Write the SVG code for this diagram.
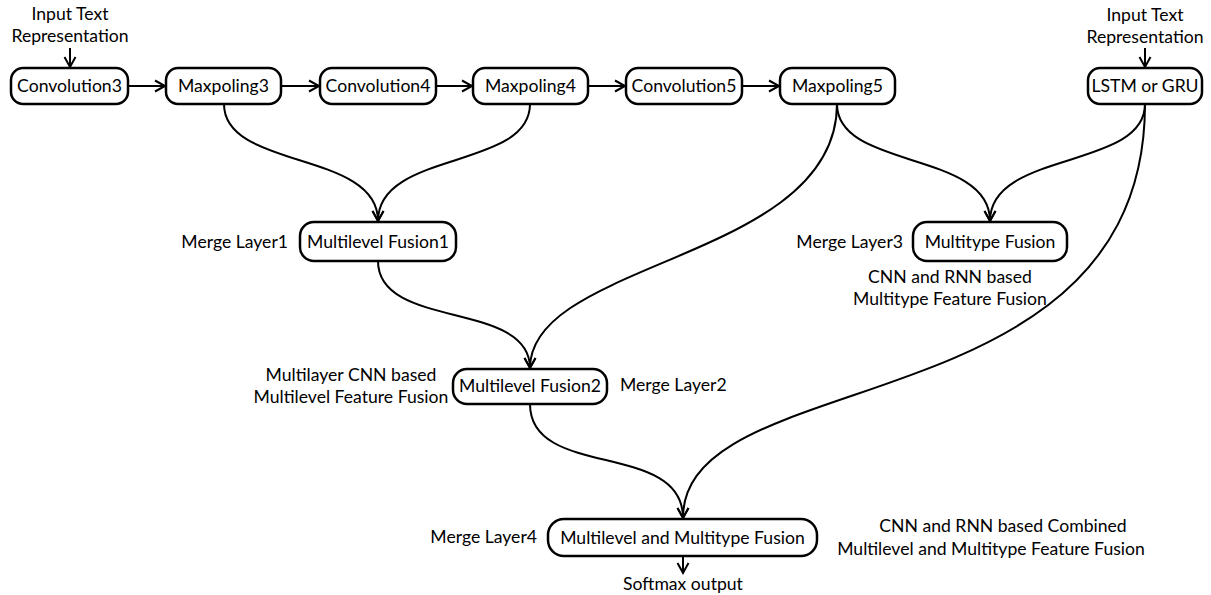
<svg xmlns="http://www.w3.org/2000/svg" width="1211" height="595" viewBox="0 0 1211 595">
<style>
.box{fill:#fff;stroke:#000;stroke-width:2.5}
.t{font-family:Lato,"Liberation Sans",sans-serif;font-size:17.6px;fill:#000;text-anchor:middle}
.l{font-family:Lato,"Liberation Sans",sans-serif;font-size:17.6px;fill:#000}
.e{text-anchor:end}
.c{fill:none;stroke:#000;stroke-width:2;marker-end:url(#ah)}
</style>
<defs>
<marker id="ah" markerUnits="userSpaceOnUse" markerWidth="12" markerHeight="12" refX="10" refY="5.5" orient="auto" overflow="visible">
<path d="M0,0 L10,5.5 L0,11" fill="none" stroke="#000" stroke-width="2"/>
</marker>
</defs>
<rect width="1211" height="595" fill="#fff"/>
<g id="connectors">
<path class="c" d="M70,48 V67"/>
<path class="c" d="M1145,48 V67"/>
<path class="c" d="M128,86 H165"/>
<path class="c" d="M281,86 H319"/>
<path class="c" d="M436,86 H472"/>
<path class="c" d="M588,86 H625"/>
<path class="c" d="M742,86 H779"/>
<path class="c" d="M224,104 C224,170 378,150 378,221"/>
<path class="c" d="M530,104 C530,170 378,150 378,221"/>
<path class="c" d="M837,104 C837,170 990,150 990,221"/>
<path class="c" d="M1145,104 C1145,170 990,150 990,221"/>
<path class="c" d="M837,104 C837,260 530,260 530,368"/>
<path class="c" d="M378,261 C378,330 530,300 530,368"/>
<path class="c" d="M530,404 C530,480 683,440 683,518"/>
<path class="c" d="M1145,104 C1145,430 683,360 683,518"/>
<path class="c" d="M683,556 V573"/>
</g>
<g id="n-conv3"><rect class="box" x="11" y="68" width="117" height="36" rx="12"/><text class="t" x="69.5" y="92">Convolution3</text></g>
<g id="n-max3"><rect class="box" x="166" y="68" width="115" height="36" rx="12"/><text class="t" x="223.5" y="92">Maxpoling3</text></g>
<g id="n-conv4"><rect class="box" x="320" y="68" width="116" height="36" rx="12"/><text class="t" x="378" y="92">Convolution4</text></g>
<g id="n-max4"><rect class="box" x="473" y="68" width="115" height="36" rx="12"/><text class="t" x="530.5" y="92">Maxpoling4</text></g>
<g id="n-conv5"><rect class="box" x="626" y="68" width="116" height="36" rx="12"/><text class="t" x="684" y="92">Convolution5</text></g>
<g id="n-max5"><rect class="box" x="780" y="68" width="115" height="36" rx="12"/><text class="t" x="837.5" y="92">Maxpoling5</text></g>
<g id="n-lstm"><rect class="box" x="1088" y="68" width="114" height="36" rx="12"/><text class="t" x="1145" y="92">LSTM or GRU</text></g>
<g id="n-mf1"><rect class="box" x="300" y="222" width="156" height="39" rx="14"/><text class="t" x="378" y="248">Multilevel Fusion1</text></g>
<g id="n-mtf"><rect class="box" x="913" y="222" width="154" height="39" rx="14"/><text class="t" x="990" y="248">Multitype Fusion</text></g>
<g id="n-mf2"><rect class="box" x="453" y="369" width="154" height="35" rx="14"/><text class="t" x="530" y="392">Multilevel Fusion2</text></g>
<g id="n-mmf"><rect class="box" x="548" y="519" width="269" height="37" rx="16"/><text class="t" x="682.5" y="544">Multilevel and Multitype Fusion</text></g>
<g id="labels">
<text class="t" x="70" y="20">Input Text</text>
<text class="t" x="70" y="42">Representation</text>
<text class="t" x="1145" y="21">Input Text</text>
<text class="t" x="1145" y="43">Representation</text>
<text class="l e" x="288" y="248">Merge Layer1</text>
<text class="l e" x="903" y="248">Merge Layer3</text>
<text class="t" x="950" y="283">CNN and RNN based</text>
<text class="t" x="950" y="305">Multitype Feature Fusion</text>
<text class="t" x="351" y="381">Multilayer CNN based</text>
<text class="t" x="351" y="403">Multilevel Feature Fusion</text>
<text class="l" x="620" y="391">Merge Layer2</text>
<text class="l e" x="537" y="543">Merge Layer4</text>
<text class="t" x="1003" y="532">CNN and RNN based Combined</text>
<text class="t" x="991" y="555">Multilevel and Multitype Feature Fusion</text>
<text class="t" x="683" y="590">Softmax output</text>
</g>
</svg>
